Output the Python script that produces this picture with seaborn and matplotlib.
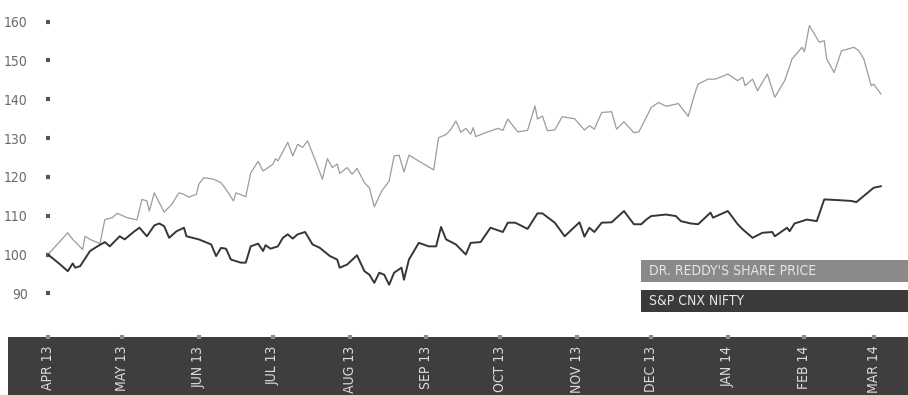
import matplotlib
matplotlib.use('Agg')
import matplotlib.pyplot as plt
import matplotlib.transforms as mtransforms
from matplotlib.patches import Rectangle
import seaborn as sns
import pandas as pd

# data: day offsets from 1 Apr 2013, indexed value (Apr 13 = 100)
start = pd.Timestamp('2013-04-01')

reddy_days = [0, 8, 10, 14, 15, 17, 21, 23, 26, 28,
              32, 36, 38, 40, 41, 43, 47, 50, 53, 55,
              57, 60, 61, 63, 67, 70, 72, 75, 76, 80,
              82, 85, 87, 91, 92, 93, 97, 99, 101, 103,
              105, 108, 111, 113, 115, 117, 118, 121, 123, 125,
              128, 130, 132, 135, 138, 140, 142, 144, 146, 156,
              158, 161, 163, 165, 167, 169, 171, 172, 173, 177,
              182, 184, 186, 190, 194, 197, 198, 200, 202, 205,
              208, 213, 217, 219, 221, 224, 228, 230, 233, 237,
              239, 242, 244, 247, 250, 255, 259, 262, 263, 267,
              270, 275, 279, 281, 282, 285, 287, 291, 294, 298,
              301, 305, 306, 308, 312, 314, 315, 318, 321, 326,
              328, 330, 333, 334, 337]
reddy_vals = [100, 105.6, 103.9, 101.3, 104.7, 103.9, 102.8, 109.0, 109.5, 110.6,
              109.5, 108.9, 114.2, 113.8, 111.2, 115.9, 110.9, 112.9, 115.9, 115.5,
              114.8, 115.5, 118.1, 119.8, 119.4, 118.5, 116.8, 113.8, 115.9, 114.9,
              121.0, 124.0, 121.5, 123.3, 124.7, 124.1, 128.9, 125.4, 128.4, 127.6,
              129.3, 124.5, 119.4, 124.7, 122.4, 123.3, 120.9, 122.4, 120.7, 122.2,
              118.5, 117.2, 112.3, 116.4, 118.9, 125.4, 125.6, 121.3, 125.6, 121.8,
              130.1, 130.9, 132.3, 134.4, 131.5, 132.5, 131.0, 132.7, 130.4, 131.4,
              132.5, 132.0, 134.9, 131.6, 132.0, 138.3, 134.9, 135.7, 131.9, 132.1,
              135.5, 135.0, 132.1, 133.2, 132.3, 136.6, 136.8, 132.3, 134.2, 131.4,
              131.6, 135.3, 137.9, 139.2, 138.2, 138.9, 135.6, 142.2, 143.9, 145.2,
              145.2, 146.5, 144.8, 145.7, 143.5, 145.2, 142.2, 146.5, 140.5, 144.8,
              150.4, 153.4, 152.3, 159.0, 154.7, 155.1, 150.4, 146.9, 152.5, 153.4,
              152.5, 150.4, 143.5, 143.9, 141.3]

nifty_days = [0, 5, 8, 10, 11, 13, 17, 20, 23, 25,
              29, 31, 35, 37, 40, 43, 45, 47, 49, 52,
              55, 56, 61, 66, 68, 70, 72, 74, 78, 80,
              82, 85, 87, 88, 90, 93, 95, 97, 99, 101,
              104, 107, 110, 114, 117, 118, 121, 125, 128, 130,
              132, 134, 136, 138, 140, 143, 144, 146, 150, 154,
              157, 159, 161, 165, 167, 169, 171, 175, 179, 184,
              186, 189, 194, 198, 200, 205, 209, 215, 217, 219,
              221, 224, 228, 233, 237, 240, 242, 244, 250, 254,
              256, 260, 263, 268, 269, 275, 279, 281, 285, 289,
              293, 294, 299, 300, 302, 307, 311, 314, 320, 325,
              327, 334, 337]
nifty_vals = [100, 97.4, 95.7, 97.7, 96.6, 97.0, 100.9, 102.1, 103.2, 102.1,
              104.7, 103.9, 106.0, 106.9, 104.7, 107.5, 108.0, 107.3, 104.3, 106.0,
              106.9, 104.7, 103.9, 102.6, 99.6, 101.7, 101.5, 98.7, 97.9, 97.9,
              102.1, 102.8, 100.9, 102.4, 101.5, 102.1, 104.3, 105.2, 104.1, 105.2,
              105.8, 102.6, 101.7, 99.6, 98.7, 96.6, 97.4, 99.8, 95.7, 94.8,
              92.7, 95.3, 94.8, 92.2, 95.3, 96.6, 93.5, 98.7, 103.0, 102.1,
              102.1, 107.1, 103.9, 102.6, 101.3, 100.0, 103.0, 103.2, 106.9, 105.8,
              108.2, 108.2, 106.6, 110.6, 110.6, 108.2, 104.7, 108.3, 104.6, 106.9,
              105.8, 108.2, 108.3, 111.2, 107.8, 107.8, 109.0, 109.9, 110.3, 109.9,
              108.6, 108.0, 107.8, 110.8, 109.5, 111.2, 107.8, 106.5, 104.3, 105.6,
              105.8, 104.7, 106.9, 106.0, 108.0, 109.0, 108.6, 114.2, 114.0, 113.8,
              113.5, 117.2, 117.6]

series_names = ["DR. REDDY'S SHARE PRICE", "S&P CNX NIFTY"]
series_colors = ['#9c9c9c', '#363636']
y_ticks = [90, 100, 110, 120, 130, 140, 150, 160]
month_ticks = pd.date_range('2013-04-01', '2014-03-01', freq='MS')
month_labels = [d.strftime('%b %y').upper() for d in month_ticks]

reddy = pd.DataFrame({'date': start + pd.to_timedelta(reddy_days, unit='D'), 'value': reddy_vals})
nifty = pd.DataFrame({'date': start + pd.to_timedelta(nifty_days, unit='D'), 'value': nifty_vals})

sns.set_theme(style='white')
plt.rcParams['font.family'] = ['Liberation Sans Narrow', 'DejaVu Sans']
plt.rcParams['font.stretch'] = 'condensed'

W, H = 908, 395
fig = plt.figure(figsize=(W / 100, H / 100), dpi=100)

px_day = 75.2 / 30.42  # pixels per day on the time axis
right_end = start + pd.Timedelta(days=860 / px_day)

ax = fig.add_axes([48 / W, 58 / H, 860 / W, 337 / H])
band = fig.add_axes([8 / W, 0, 900 / W, 58 / H])

sns.lineplot(data=reddy, x='date', y='value', color=series_colors[0], linewidth=0.9, ax=ax)
sns.lineplot(data=nifty, x='date', y='value', color=series_colors[1], linewidth=1.4, ax=ax)

ax.set_xlim(start, right_end)
ax.set_ylim(78.74, 165.59)
ax.set_yticks(y_ticks)
ax.set_yticklabels([str(v) for v in y_ticks])
ax.set_xticks([])
ax.set_xlabel('')
ax.set_ylabel('')
ax.tick_params(axis='y', left=True, length=3, width=3, direction='inout',
               color='#555555', pad=13, labelsize=10, labelcolor='#6a6a6a')
for s in ax.spines.values():
    s.set_visible(False)
ax.patch.set_alpha(0)

# dark month band
band.set_facecolor('#3e3e3e')
band.set_xlim(start - pd.Timedelta(days=40 / px_day), right_end)
band.set_ylim(0, 1)
band.set_yticks([])
band.xaxis.set_ticks_position('top')
band.set_xticks(month_ticks)
band.tick_params(axis='x', top=True, bottom=False, length=3, width=3, direction='inout',
                 color='#8a8a8a', labeltop=False, labelbottom=False)
for s in band.spines.values():
    s.set_visible(False)
trans = mtransforms.blended_transform_factory(band.transData, band.transAxes)
for d, lab in zip(month_ticks, month_labels):
    band.text(d, 0.85, lab, transform=trans, rotation=90, ha='center', va='top',
              color='#dcdcdc', fontsize=10)

# legend boxes at the right edge
for i, (name, col) in enumerate(zip(series_names, series_colors)):
    top = 260 + i * 30
    fig.add_artist(Rectangle((641 / W, 1 - (top + 22) / H), (W - 641) / W, 22 / H,
                             transform=fig.transFigure, facecolor='#8a8a8a' if i == 0 else '#3a3a3a',
                             edgecolor='none'))
    fig.text(649 / W, 1 - (top + 11) / H, name, ha='left', va='center',
             color='#e6e6e6', fontsize=10)

fig.savefig('out.png', dpi=100)
